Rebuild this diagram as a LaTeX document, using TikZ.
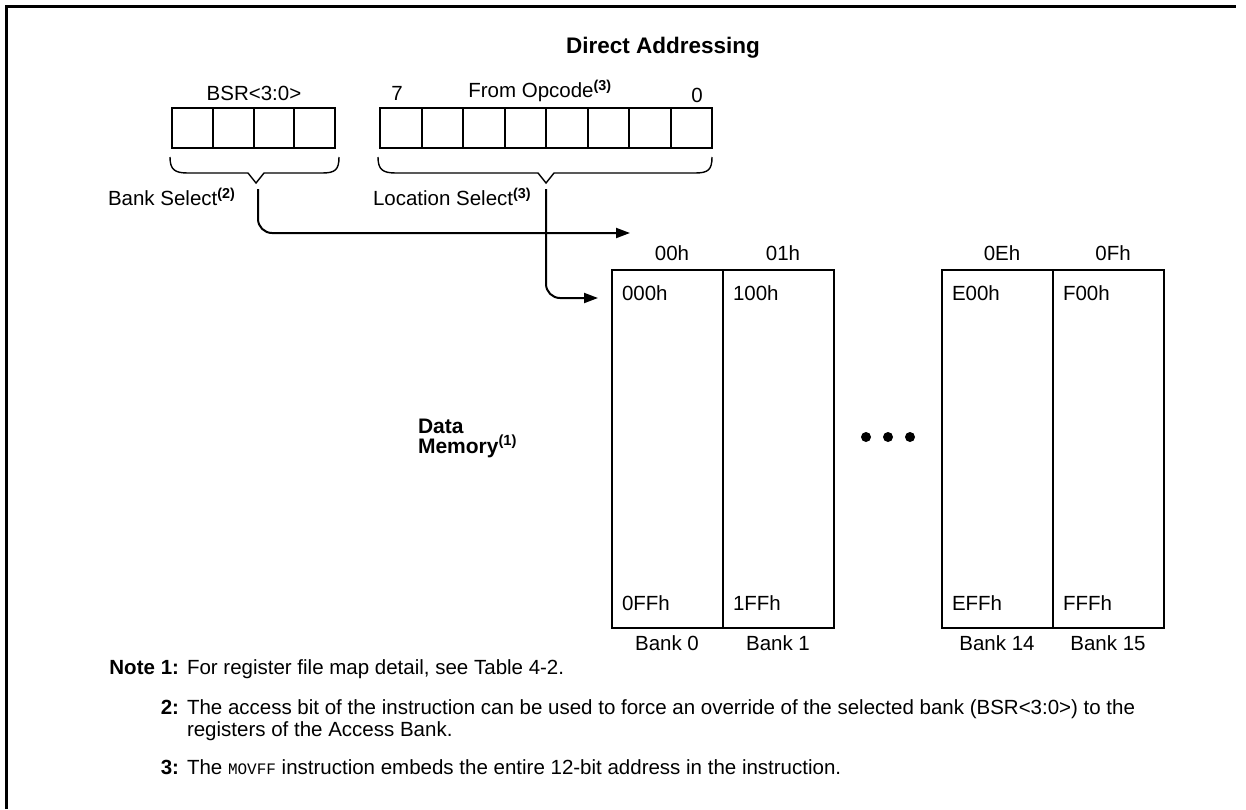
\documentclass[tikz,border=0pt]{standalone}
\usepackage{fontspec}
\setmainfont{Liberation Sans}
\setmonofont{Liberation Mono}
\usetikzlibrary{arrows.meta}

\begin{document}
\begin{tikzpicture}[x=1pt, y=-1pt, line width=2pt,
    font=\fontsize{20.5}{22}\selectfont,
    every node/.style={inner sep=0pt},
    bold/.style={font=\fontsize{20.5}{22}\selectfont\bfseries},
    tip/.style={-{Triangle[length=14pt,width=10pt]}},
    brace/.style={line width=1.4pt}]
    \useasboundingbox (0,0) rectangle (1246,809);

    % frame
    \draw[line width=3pt] (6,809) -- (6,6) -- (1236,6);

    \node[font=\fontsize{22.5}{24}\selectfont\bfseries] (title) at (663,48) {Direct Addressing};

    % BSR register
    \node (bsr) at (254,93) {BSR<3:0>};
    \draw (172,108) rectangle (335,148);
    \foreach \i in {1,2,3}
        {
            \draw ({172+\i*40.75},108) -- ({172+\i*40.75},148);
        }

    % opcode register
    \node (bit7) at (397,93) {7};
    \node (opcode) at (540,91) {From Opcode\textsuperscript{\bfseries(3)}};
    \node (bit0) at (697,95) {0};
    \draw (380,108) rectangle (712,148);
    \foreach \i in {1,...,7}
        {
            \draw ({380+\i*41.5},108) -- ({380+\i*41.5},148);
        }

    % braces
    \draw[brace] (170,157) .. controls (170,170) and (175,173) .. (188,173)
        -- (248,173) -- (256,183) -- (264,173) -- (322,173)
        .. controls (335,173) and (339,170) .. (339,157);
    \draw[brace] (378,157) .. controls (378,170) and (383,173) .. (396,173)
        -- (538,173) -- (546,183) -- (554,173) -- (695,173)
        .. controls (708,173) and (712,170) .. (712,157);

    \node[anchor=west] (bank select) at (107,197) {Bank Select\textsuperscript{\bfseries(2)}};
    \node[anchor=west] (location select) at (372,197) {Location Select\textsuperscript{\bfseries(3)}};

    % connectors
    \coordinate (bank start) at (258,189);
    \coordinate (bank end) at (630,233);
    \coordinate (location start) at (546,189);
    \coordinate (location end) at (598,298);
    \draw[tip, rounded corners=14pt] (bank start) |- (bank end);
    \draw[tip, rounded corners=14pt] (location start) |- (location end);

    % banks
    \foreach \x/\b/\head/\first/\last in {612/0/00h/000h/0FFh, 723/1/01h/100h/1FFh,
        942/14/0Eh/E00h/EFFh, 1053/15/0Fh/F00h/FFFh}
        {
            \draw (\x,270) rectangle ++(111,358);
            \node (head\b) at ({\x+60},253) {\head};
            \node[anchor=west] (first\b) at ({\x+9},293) {\first};
            \node[anchor=west] (last\b) at ({\x+9},603) {\last};
            \node (bank\b) at ({\x+55},643) {Bank \b};
        }

    \foreach \x in {866,888,910}
        {
            \fill (\x,437) circle (5);
        }

    \node[anchor=west, align=left, font=\fontsize{21}{20}\selectfont\bfseries] (data memory) at (417,438)
        {Data\\Memory\textsuperscript{(1)}};

    % notes
    \node[anchor=base east, bold] (note) at (156,674) {Note};
    \foreach \n/\y in {1/674, 2/714, 3/774}
        {
            \node[anchor=base east, bold] (num\n) at (180,\y) {\n:};
        }
    \node[anchor=base west] (note1) at (186,674) {For register file map detail, see Table 4-2.};
    \node[anchor=base west] (note2a) at (186,714) {The access bit of the instruction can be used to force an override of the selected bank (BSR<3:0>) to the};
    \node[anchor=base west] (note2b) at (186,736) {registers of the Access Bank.};
    \node[anchor=base west] (note3) at (186,774) {The \texttt{\fontsize{16}{18}\selectfont MOVFF} instruction embeds the entire 12-bit address in the instruction.};
\end{tikzpicture}
\end{document}
